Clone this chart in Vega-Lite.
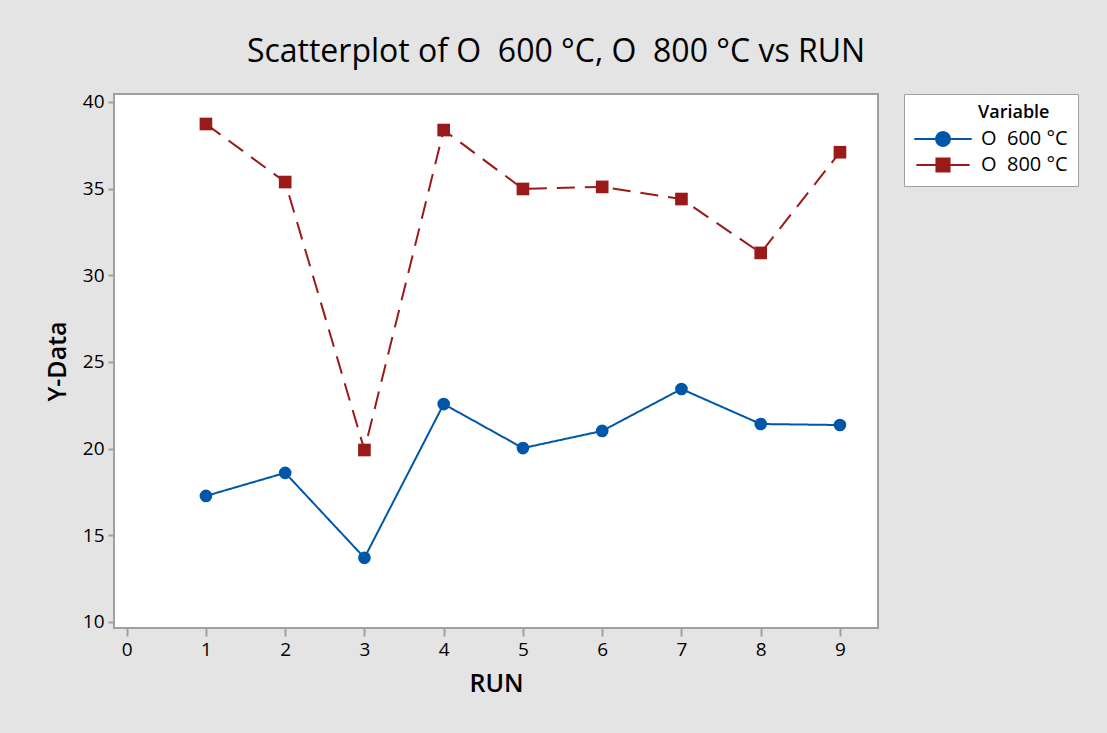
{
  "$schema": "https://vega.github.io/schema/vega-lite/v6.json",
  "width": 764,
  "height": 534,
  "autosize": {"type": "none"},
  "padding": {"left": 114, "top": 94, "right": 229, "bottom": 105},
  "background": "#e4e4e4",
  "title": {
    "text": "Scatterplot of O\u00a0\u00a0600 °C, O\u00a0\u00a0800 °C vs RUN",
    "font": "Open Sans",
    "fontSize": 32,
    "fontWeight": "normal",
    "color": "#000000",
    "anchor": "middle",
    "frame": "group",
    "dx": 60,
    "offset": 24
  },
  "config": {
    "view": {"fill": "#ffffff", "stroke": "#a0a0a0", "strokeWidth": 2},
    "axis": {
      "labelFont": "Open Sans",
      "labelFontSize": 19,
      "labelColor": "#000000",
      "titleFont": "Open Sans",
      "titleFontSize": 25,
      "titleFontWeight": 600,
      "titleColor": "#000000",
      "domain": false,
      "grid": false,
      "tickColor": "#a0a0a0",
      "tickWidth": 2
    },
    "legend": {
      "titleFont": "Open Sans",
      "titleFontSize": 18,
      "titleFontWeight": 600,
      "titleColor": "#000000",
      "labelFont": "Open Sans",
      "labelFontSize": 20,
      "labelColor": "#000000"
    }
  },
  "data": {
    "values": [
      {"run": 1, "series": "O\u00a0\u00a0600 °C", "value": 17.27},
      {"run": 2, "series": "O\u00a0\u00a0600 °C", "value": 18.6},
      {"run": 3, "series": "O\u00a0\u00a0600 °C", "value": 13.7},
      {"run": 4, "series": "O\u00a0\u00a0600 °C", "value": 22.57},
      {"run": 5, "series": "O\u00a0\u00a0600 °C", "value": 20.03},
      {"run": 6, "series": "O\u00a0\u00a0600 °C", "value": 21.02},
      {"run": 7, "series": "O\u00a0\u00a0600 °C", "value": 23.44},
      {"run": 8, "series": "O\u00a0\u00a0600 °C", "value": 21.42},
      {"run": 9, "series": "O\u00a0\u00a0600 °C", "value": 21.36},
      {"run": 1, "series": "O\u00a0\u00a0800 °C", "value": 38.73},
      {"run": 2, "series": "O\u00a0\u00a0800 °C", "value": 35.38},
      {"run": 3, "series": "O\u00a0\u00a0800 °C", "value": 19.92},
      {"run": 4, "series": "O\u00a0\u00a0800 °C", "value": 38.38},
      {"run": 5, "series": "O\u00a0\u00a0800 °C", "value": 34.98},
      {"run": 6, "series": "O\u00a0\u00a0800 °C", "value": 35.1},
      {"run": 7, "series": "O\u00a0\u00a0800 °C", "value": 34.4},
      {"run": 8, "series": "O\u00a0\u00a0800 °C", "value": 31.29},
      {"run": 9, "series": "O\u00a0\u00a0800 °C", "value": 37.1}
    ]
  },
  "encoding": {
    "x": {
      "field": "run",
      "type": "quantitative",
      "title": "RUN",
      "scale": {"domain": [-0.16, 9.48], "nice": false, "zero": false},
      "axis": {"values": [0, 1, 2, 3, 4, 5, 6, 7, 8, 9], "tickSize": 8, "labelPadding": 4, "titlePadding": 12}
    },
    "y": {
      "field": "value",
      "type": "quantitative",
      "title": "Y-Data",
      "scale": {"domain": [9.65, 40.46], "nice": false, "zero": false},
      "axis": {"values": [10, 15, 20, 25, 30, 35, 40], "tickSize": 6, "labelPadding": 4, "titlePadding": 12}
    }
  },
  "layer": [
    {
      "mark": {"type": "line", "strokeWidth": 2},
      "encoding": {
        "color": {
          "field": "series",
          "type": "nominal",
          "scale": {"range": ["#0057a8", "#9a1a1a"]},
          "legend": {
            "title": "Variable",
            "orient": "none",
            "legendX": 790,
            "legendY": 0,
            "fillColor": "#ffffff",
            "strokeColor": "#a0a0a0",
            "padding": 10,
            "titlePadding": 7,
            "symbolSize": 196,
            "symbolOffset": 19,
            "labelOffset": 28,
            "rowPadding": 4,
            "encode": {
              "title": {"update": {"dx": {"value": 64}}},
              "symbols": {
                "update": {
                  "shape": {"signal": "datum.value === 'O\u00a0\u00a0600 °C' ? 'M-4.1,0L4.1,0M-1,0A1,1 0 1,1 1,0A1,1 0 1,1 -1,0Z' : 'M-3.8,0L3.8,0M-0.95,-0.95L0.95,-0.95L0.95,0.95L-0.95,0.95Z'"},
                  "stroke": {"signal": "scale('color', datum.value)"},
                  "fill": {"signal": "scale('color', datum.value)"},
                  "strokeWidth": {"value": 1.8},
                  "strokeDash": {"value": [1, 0]},
                  "opacity": {"value": 1}
                }
              }
            }
          }
        },
        "strokeDash": {
          "field": "series",
          "type": "nominal",
          "scale": {"range": [[1, 0], [18, 10]]},
          "legend": null
        }
      }
    },
    {
      "mark": {"type": "point", "filled": true, "opacity": 1},
      "encoding": {
        "color": {
          "field": "series",
          "type": "nominal",
          "scale": {"range": ["#0057a8", "#9a1a1a"]}
        },
        "shape": {
          "field": "series",
          "type": "nominal",
          "scale": {"range": ["circle", "square"]},
          "legend": null
        },
        "size": {"value": 160}
      }
    }
  ]
}
